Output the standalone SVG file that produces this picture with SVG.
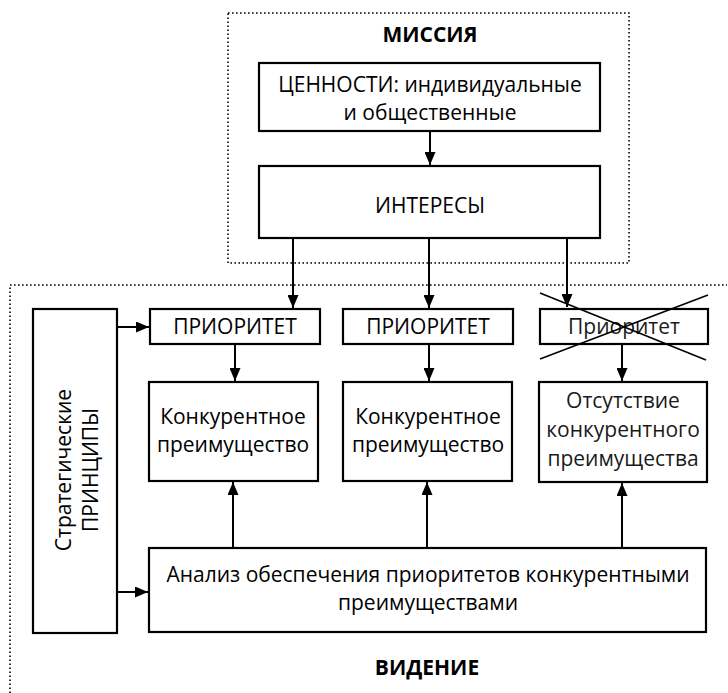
<svg xmlns="http://www.w3.org/2000/svg" width="728" height="693" viewBox="0 0 728 693">
<defs>
<marker id="ah" viewBox="0 0 10 12" refX="10" refY="6" markerWidth="13" markerHeight="11" markerUnits="userSpaceOnUse" orient="auto" preserveAspectRatio="none">
<path d="M0,0 L10,6 L0,12 z" fill="#000"/>
</marker>
<style>
.box{fill:#fff;stroke:#000;stroke-width:2.2}
.dot{fill:none;stroke:#000;stroke-width:1.6;stroke-dasharray:1.6 2.4}
.t{font-family:"Open Sans","Noto Sans",sans-serif;font-size:21px;font-weight:500;fill:#000;text-anchor:middle}
.l{font-weight:400;fill:#1a1a1a}
.b{font-family:"Open Sans","Noto Sans",sans-serif;font-size:21px;font-weight:bold;fill:#000;text-anchor:middle}
.c{fill:none;stroke:#000;stroke-width:2}
.x{fill:none;stroke:#000;stroke-width:1.6}
</style>
</defs>
<rect width="728" height="693" fill="#fff"/>
<g id="mission-frame">
<rect class="dot" x="228" y="13" width="401" height="250"/>
<text class="b" x="430" y="42">МИССИЯ</text>
</g>
<g id="vision-frame">
<polyline class="dot" points="10,693 10,285 727,285"/>
<text class="b" x="427" y="675">ВИДЕНИЕ</text>
</g>
<g id="values">
<rect class="box" x="259" y="63" width="341" height="68"/>
<text class="t" x="430" y="92">ЦЕННОСТИ: индивидуальные</text>
<text class="t" x="430" y="120">и общественные</text>
</g>
<g id="interests">
<rect class="box" x="259" y="166" width="341" height="72"/>
<text class="t" x="430" y="213">ИНТЕРЕСЫ</text>
</g>
<g id="principles">
<rect class="box" x="33" y="309" width="84" height="324"/>
<text class="t" transform="translate(71,470) rotate(-90)">Стратегические</text>
<text class="t" transform="translate(98,470) rotate(-90)">ПРИНЦИПЫ</text>
</g>
<g id="priority1">
<rect class="box" x="150" y="309" width="170" height="35"/>
<text class="t" x="235" y="334">ПРИОРИТЕТ</text>
</g>
<g id="priority2">
<rect class="box" x="343" y="309" width="170" height="35"/>
<text class="t" x="428" y="334">ПРИОРИТЕТ</text>
</g>
<g id="priority3">
<rect class="box" x="540" y="309" width="168" height="35"/>
<text class="t l" x="624" y="334">Приоритет</text>
<line class="x" x1="540" y1="293" x2="706" y2="360"/>
<line class="x" x1="708" y1="295" x2="540" y2="359"/>
</g>
<g id="advantage1">
<rect class="box" x="149" y="382" width="169" height="99"/>
<text class="t" x="233" y="424">Конкурентное</text>
<text class="t" x="233" y="452">преимущество</text>
</g>
<g id="advantage2">
<rect class="box" x="343" y="382" width="169" height="99"/>
<text class="t" x="428" y="424">Конкурентное</text>
<text class="t" x="428" y="452">преимущество</text>
</g>
<g id="no-advantage">
<rect class="box" x="539" y="382" width="168" height="100"/>
<text class="t l" x="623" y="408">Отсутствие</text>
<text class="t l" x="623" y="437">конкурентного</text>
<text class="t l" x="623" y="466">преимущества</text>
</g>
<g id="analysis">
<rect class="box" x="149" y="548" width="557" height="84"/>
<text class="t" x="428" y="582">Анализ обеспечения приоритетов конкурентными</text>
<text class="t" x="428" y="610">преимуществами</text>
</g>
<g id="connectors">
<line class="c" x1="430" y1="131" x2="430" y2="165" marker-end="url(#ah)"/>
<line class="c" x1="293" y1="238" x2="293" y2="308" marker-end="url(#ah)"/>
<line class="c" x1="429" y1="238" x2="429" y2="308" marker-end="url(#ah)"/>
<line class="c" x1="567" y1="238" x2="567" y2="307" marker-end="url(#ah)"/>
<line class="c" x1="117" y1="327" x2="149" y2="327" marker-end="url(#ah)"/>
<line class="c" x1="117" y1="592" x2="148" y2="592" marker-end="url(#ah)"/>
<line class="c" x1="235" y1="344" x2="235" y2="381" marker-end="url(#ah)"/>
<line class="c" x1="429" y1="344" x2="429" y2="381" marker-end="url(#ah)"/>
<line class="c" x1="622" y1="344" x2="622" y2="381" marker-end="url(#ah)"/>
<line class="c" x1="233" y1="548" x2="233" y2="482" marker-end="url(#ah)"/>
<line class="c" x1="427" y1="548" x2="427" y2="482" marker-end="url(#ah)"/>
<line class="c" x1="622" y1="548" x2="622" y2="483" marker-end="url(#ah)"/>
</g>
</svg>
